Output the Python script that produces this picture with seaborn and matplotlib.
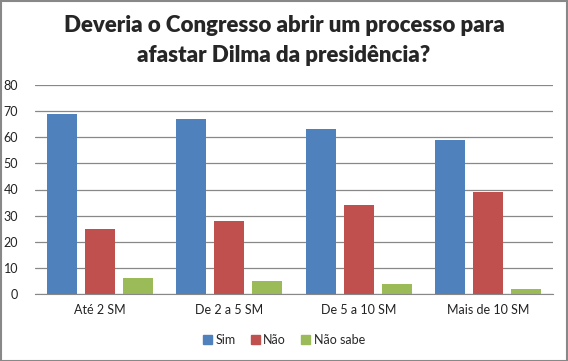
import pandas as pd
import matplotlib.pyplot as plt
import seaborn as sns

# Data
categorias = ['Até 2 SM', 'De 2 a 5 SM', 'De 5 a 10 SM', 'Mais de 10 SM']
sim = [69, 67, 63, 59]
nao = [25, 28, 34, 39]
nao_sabe = [6, 5, 4, 2]
respostas = ['Sim', 'Não', 'Não sabe']
cores = ['#4F81BD', '#C0504D', '#9BBB59']

df = pd.DataFrame({'categoria': categorias, 'Sim': sim, 'Não': nao, 'Não sabe': nao_sabe})
df = df.melt(id_vars='categoria', var_name='resposta', value_name='valor')

sns.set_style('white')
plt.rcParams['font.family'] = ['Lato', 'DejaVu Sans']

fig = plt.figure(figsize=(5.68, 3.61), dpi=100)
ax = fig.add_axes([35 / 568, 1 - 294 / 361, 518 / 568, 209 / 361])

sns.barplot(data=df, x='categoria', y='valor', hue='resposta', hue_order=respostas,
            palette=cores, width=0.88, gap=0.21, saturation=1, linewidth=0,
            ax=ax, legend=False)

ax.set_ylim(0, 80)
ax.set_yticks(range(0, 81, 10))
ax.set_xlim(-0.5, 3.5)
ax.yaxis.grid(True, color='#888888', linewidth=0.9)
ax.set_axisbelow(True)
for s in ['top', 'right', 'left']:
    ax.spines[s].set_visible(False)
ax.spines['bottom'].set_color('#888888')
ax.tick_params(axis='both', length=0, labelsize=9, colors='#222222')
ax.tick_params(axis='y', pad=12)
ax.tick_params(axis='x', pad=7)
ax.set_xlabel('')
ax.set_ylabel('')

fig.text(0.5, 1 - 26 / 361, 'Deveria o Congresso abrir um processo para', ha='center', va='center',
         fontsize=16, fontweight='heavy')
fig.text(0.5, 1 - 56 / 361, 'afastar Dilma da presidência?', ha='center', va='center',
         fontsize=16, fontweight='heavy')

handles = [plt.Rectangle((0, 0), 1, 1, color=c) for c in cores]
fig.legend(handles, respostas, loc='center', bbox_to_anchor=(0.5, 1 - 340 / 361), ncol=3,
           frameon=False, fontsize=9, handlelength=0.7, handleheight=0.7, handletextpad=0.3,
           columnspacing=1.2)

border = plt.Rectangle((0.5 / 568, 0.5 / 361), 1 - 1.5 / 568, 1 - 1.5 / 361, transform=fig.transFigure,
                       fill=False, edgecolor='#888888', linewidth=1.5)
fig.patches.append(border)

fig.savefig('out.png', dpi=100)
